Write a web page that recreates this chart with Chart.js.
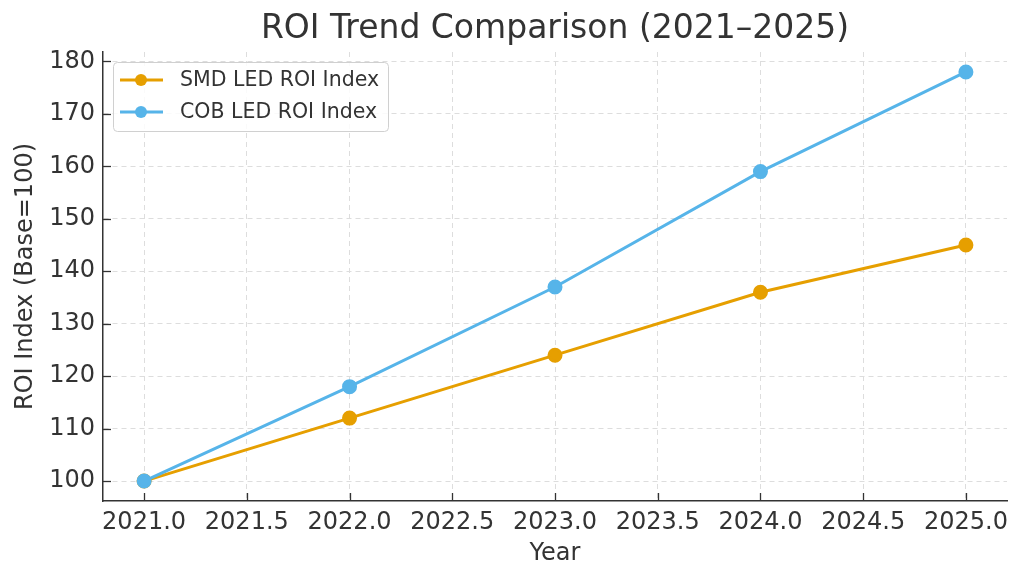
<!DOCTYPE html>
<html lang="en">
<head>
  <meta charset="UTF-8" />
  <title>ROI Trend Comparison</title>
  <script src="https://cdn.jsdelivr.net/npm/chart.js"></script>
  <style>
    html, body { margin: 0; padding: 0; background: #fff; }
    #wrap { width: 1024px; height: 581px; }
  </style>
</head>
<body>
  <div id="wrap"><canvas id="grafico" width="1024" height="581"></canvas></div>

  <script>
    const years = [2021, 2022, 2023, 2024, 2025];
    const smdRoi = [100, 112, 124, 136, 145];
    const cobRoi = [100, 118, 137, 159, 178];
    const xTicks = [2021.0, 2021.5, 2022.0, 2022.5, 2023.0, 2023.5, 2024.0, 2024.5, 2025.0];
    const yTicks = [100, 110, 120, 130, 140, 150, 160, 170, 180];
    const titulo = "ROI Trend Comparison (2021–2025)";

    const FONT = "'DejaVu Sans', sans-serif";
    const TXT = "#333333";

    // title centred over the plot area + inward tick marks (matplotlib look)
    const extras = {
      id: "extras",
      afterDraw(chart) {
        const ctx = chart.ctx;
        const area = chart.chartArea;
        ctx.save();
        ctx.fillStyle = TXT;
        ctx.font = "33px " + FONT;
        ctx.textAlign = "center";
        ctx.textBaseline = "middle";
        ctx.fillText(titulo, (area.left + area.right) / 2, 29);

        ctx.strokeStyle = "#333";
        ctx.lineWidth = 1.3;
        const sx = chart.scales.x, sy = chart.scales.y;
        xTicks.forEach(v => {
          const px = Math.round(sx.getPixelForValue(v)) + 0.5;
          ctx.beginPath();
          ctx.moveTo(px, area.bottom);
          ctx.lineTo(px, area.bottom - 8);
          ctx.stroke();
        });
        yTicks.forEach(v => {
          const py = Math.round(sy.getPixelForValue(v)) + 0.5;
          ctx.beginPath();
          ctx.moveTo(area.left, py);
          ctx.lineTo(area.left + 8, py);
          ctx.stroke();
        });
        ctx.restore();
      }
    };

    // legend inside the plot, top-left
    const boxLegend = {
      id: "boxLegend",
      afterDraw(chart) {
        const ctx = chart.ctx;
        const area = chart.chartArea;
        const x0 = area.left + 10, y0 = area.top + 10;
        const w = 275, h = 69;
        ctx.save();
        ctx.fillStyle = "rgba(255,255,255,0.85)";
        ctx.strokeStyle = "#d0d0d0";
        ctx.lineWidth = 1;
        ctx.beginPath();
        ctx.roundRect(x0 + 0.5, y0 + 0.5, w, h, 4);
        ctx.fill();
        ctx.stroke();
        ctx.font = "20.5px " + FONT;
        ctx.textBaseline = "middle";
        chart.data.datasets.forEach((ds, i) => {
          const cy = y0 + 18 + i * 32;
          ctx.strokeStyle = ds.borderColor;
          ctx.lineWidth = 3;
          ctx.beginPath();
          ctx.moveTo(x0 + 7, cy);
          ctx.lineTo(x0 + 50, cy);
          ctx.stroke();
          ctx.fillStyle = ds.backgroundColor;
          ctx.beginPath();
          ctx.arc(x0 + 28, cy, 6, 0, Math.PI * 2);
          ctx.fill();
          ctx.fillStyle = TXT;
          ctx.fillText(ds.label, x0 + 67, cy + 1);
        });
        ctx.restore();
      }
    };

    new Chart(document.getElementById("grafico"), {
      type: "line",
      data: {
        datasets: [
          {
            label: "SMD LED ROI Index",
            data: years.map((y, i) => ({ x: y, y: smdRoi[i] })),
            borderColor: "#E69F00",
            backgroundColor: "#E69F00",
            borderWidth: 3,
            pointRadius: 6,
            pointHoverRadius: 6,
            tension: 0,
            order: 1
          },
          {
            label: "COB LED ROI Index",
            data: years.map((y, i) => ({ x: y, y: cobRoi[i] })),
            borderColor: "#56B4E9",
            backgroundColor: "#56B4E9",
            borderWidth: 3,
            pointRadius: 6,
            pointHoverRadius: 6,
            tension: 0,
            order: 0
          }
        ]
      },
      options: {
        responsive: false,
        animation: false,
        layout: { padding: { top: 52, right: 17, left: 0, bottom: 0 } },
        plugins: {
          legend: { display: false },
          tooltip: { enabled: false },
          title: { display: false }
        },
        scales: {
          x: {
            type: "linear",
            min: 2020.8,
            max: 2025.2,
            afterBuildTicks: s => { s.ticks = xTicks.map(v => ({ value: v })); },
            afterFit: s => { s.height = 80; },
            ticks: {
              color: TXT,
              font: { family: FONT, size: 24 },
              padding: 7,
              callback: v => Number(v).toFixed(1),
              maxRotation: 0,
              autoSkip: false
            },
            grid: {
              color: "#dddddd",
              drawTicks: false,
              lineWidth: 1
            },
            border: { display: true, color: "#333", width: 1.5, dash: [5, 4] },
            title: {
              display: true,
              text: "Year",
              color: TXT,
              font: { family: FONT, size: 24 },
              padding: { top: 0, bottom: 13 }
            }
          },
          y: {
            min: 96.2,
            max: 181.8,
            afterBuildTicks: s => { s.ticks = yTicks.map(v => ({ value: v })); },
            afterFit: s => { s.width = 103; },
            ticks: {
              color: TXT,
              font: { family: FONT, size: 24 },
              padding: 8
            },
            grid: {
              color: "#dddddd",
              drawTicks: false,
              lineWidth: 1
            },
            border: { display: true, color: "#333", width: 1.5, dash: [5, 4] },
            title: {
              display: true,
              text: "ROI Index (Base=100)",
              color: TXT,
              font: { family: FONT, size: 24 },
              padding: { top: 11, bottom: 0 }
            }
          }
        }
      },
      plugins: [extras, boxLegend]
    });
  </script>
</body>
</html>
